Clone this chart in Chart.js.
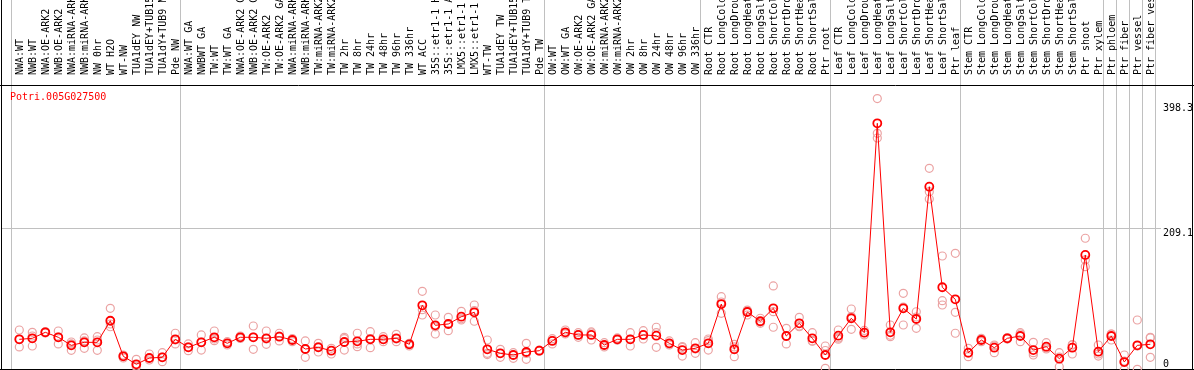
<!DOCTYPE html>
<html><head><meta charset="utf-8">
<script src="https://cdn.jsdelivr.net/npm/chart.js@4.4.0/dist/chart.umd.min.js"></script>
<style>html,body{margin:0;padding:0;background:#fff;overflow:hidden}#wrap{width:1194px;height:370px;position:relative}</style>
</head><body><div id="wrap"><canvas id="c" width="1194" height="370"></canvas></div>
<script>
const chartTitle = "Potri.005G027500";
const categories = [
"NWA:WT","NWB:WT","NWA:OE-ARK2","NWB:OE-ARK2","NWA:miRNA-ARK2","NWB:miRNA-ARK2","NW 0hr","WT H2O","WT-NW","TUA1dEY NW","TUA1dEY+TUB15 NW","TUA1dY+TUB9 NW","Pde NW",
"NWA:WT GA","NWBWT GA","TW:WT","TW:WT GA","NWA:OE-ARK2 GA","NWB:OE-ARK2 GA","TW:OE-ARK2","TW:OE-ARK2 GA","NWA:miRNA-ARK2 GA","NWB:miRNA-ARK2 GA","TW:miRNA-ARK2","TW:miRNA-ARK2 GA","TW 2hr","TW 8hr","TW 24hr","TW 48hr","TW 96hr","TW 336hr","WT ACC","35S::etr1-1 H2O","35S::etr1-1 ACC","LMX5::etr1-1 H2O","LMX5::etr1-1 ACC","WT-TW","TUA1dEY TW","TUA1dEY+TUB15 TW","TUA1dY+TUB9 TW","Pde TW",
"OW:WT","OW:WT GA","OW:OE-ARK2","OW:OE-ARK2 GA","OW:miRNA-ARK2","OW:miRNA-ARK2 GA","OW 2hr","OW 8hr","OW 24hr","OW 48hr","OW 96hr","OW 336hr",
"Root CTR","Root LongCold","Root LongDrought","Root LongHeat","Root LongSalt","Root ShortCold","Root ShortDrought","Root ShortHeat","Root ShortSalt","Ptr root",
"Leaf CTR","Leaf LongCold","Leaf LongDrought","Leaf LongHeat","Leaf LongSalt","Leaf ShortCold","Leaf ShortDrought","Leaf ShortHeat","Leaf ShortSalt","Ptr leaf",
"Stem CTR","Stem LongCold","Stem LongDrought","Stem LongHeat","Stem LongSalt","Stem ShortCold","Stem ShortDrought","Stem ShortHeat","Stem ShortSalt","Ptr shoot","Ptr xylem",
"Ptr phloem","Ptr fiber","Ptr vessel","Ptr fiber vessel"
];
const means = [
45.0,46.5,55.3,48.0,36.2,40.6,40.6,72.3,20.1,8.4,17.6,18.6,45.0,
33.3,40.6,48.0,39.2,48.0,48.0,46.5,48.9,44.0,30.8,33.3,28.3,41.1,42.1,45.0,45.0,46.5,37.7,94.9,65.6,67.5,78.2,84.7,30.4,24.5,22.0,26.4,28.3,
42.6,55.3,51.4,51.4,36.7,45.0,45.0,51.4,50.3,39.2,29.3,31.8,
39.2,96.8,30.4,85.1,71.5,90.5,49.9,68.5,46.5,22.0,
50.3,75.9,54.7,362.0,55.3,90.5,74.8,269.0,121.4,103.7,
25.4,44.0,32.7,46.5,49.9,29.3,34.2,16.6,32.7,168.8,26.9,
49.9,11.7,36.2,37.7
];
const rep1 = [
58.7,55.3,56.2,57.2,41.1,47.0,48.9,90.5,22.0,15.7,23.5,25.4,53.9,
38.2,51.4,57.2,41.5,49.9,64.6,57.2,53.9,41.5,42.6,39.2,31.8,48.0,53.9,56.2,48.9,52.4,39.2,115.5,80.7,77.3,86.1,95.4,44.0,30.4,25.4,39.2,29.3,
43.6,58.7,54.7,54.3,40.1,47.0,54.7,57.7,62.7,42.6,33.3,40.1,
43.0,107.6,37.7,88.0,75.9,123.3,61.2,77.3,54.7,35.2,
58.7,89.5,51.4,398.3,66.0,112.5,85.5,296.0,167.3,171.2,
31.8,46.5,36.7,47.7,54.7,40.6,40.1,25.4,36.7,193.3,36.7,
52.8,22.0,73.4,48.0
];
const rep2 = [
45.5,49.9,54.3,38.2,28.9,31.8,28.9,63.5,17.6,5.9,14.7,12.2,38.2,
28.3,29.3,43.0,36.7,46.2,30.4,37.7,42.6,44.0,18.6,34.5,23.5,29.3,38.2,32.7,41.5,41.5,37.7,80.7,52.8,57.7,73.4,71.5,24.5,18.6,17.2,15.7,27.9,
38.2,54.3,48.0,44.0,33.8,44.0,35.2,45.5,33.3,36.7,20.5,24.5,
29.3,83.2,19.5,80.7,68.5,62.7,38.2,63.5,42.6,2.5,
47.0,59.7,54.7,347.3,48.9,66.0,61.2,261.6,101.7,84.7,
19.5,41.5,25.4,45.8,41.5,22.0,32.3,4.8,23.5,161.5,20.5,
44.0,0.5,1.0,18.6
];
const rep3 = [
33.8,35.2,55.3,48.4,38.2,42.6,44.0,67.5,20.5,4.4,17.6,19.1,44.0,
33.8,41.1,45.5,39.2,47.7,48.4,45.5,49.9,46.2,30.8,26.4,28.6,46.0,34.2,46.1,44.6,45.6,35.2,88.5,63.3,67.5,75.1,87.2,22.6,24.5,22.0,24.3,27.9,
46.0,52.9,51.4,55.8,36.2,44.0,45.0,51.0,54.9,38.3,34.5,30.8,
45.5,99.8,33.8,86.6,70.4,85.6,49.9,64.6,42.2,28.6,
45.3,78.5,58.0,340.4,51.0,92.4,77.8,250.9,95.4,53.9,
24.9,44.0,35.2,45.5,52.8,25.4,30.8,19.1,37.4,151.6,23.5,
52.8,13.2,35.2,47.0
];
const yTickValues = [0, 209.1, 398.3];
const yTickLabels = ["0", "209.1", "398.3"];
const groupEnds = [-1, 12, 40, 52, 62, 72, 83, 84, 85, 86, 87];
const yMax = 418.2;

const FONT = "'DejaVu Sans Mono', 'Liberation Mono', monospace";
Chart.defaults.font.family = FONT;
Chart.defaults.font.size = 10;
Chart.defaults.color = '#000';

const framePlugin = {
  id: 'frame',
  beforeDraw(chart) {
    const {ctx, chartArea: a, scales: {x, y}} = chart;
    ctx.save();
    ctx.fillStyle = '#fff';
    ctx.fillRect(0, 0, chart.width, chart.height);
    ctx.strokeStyle = '#c0c0c0';
    ctx.lineWidth = 1;
    groupEnds.forEach(g => {
      const px = Math.round(x.getPixelForValue(g + 0.385)) + 0.5;
      ctx.beginPath(); ctx.moveTo(px, 0); ctx.lineTo(px, chart.height); ctx.stroke();
    });
    const gy = Math.round(y.getPixelForValue(yTickValues[1])) + 0.5;
    ctx.beginPath(); ctx.moveTo(a.left, gy); ctx.lineTo(1161, gy); ctx.stroke();
    ctx.strokeStyle = '#000';
    ctx.beginPath();
    ctx.moveTo(0, a.top + 0.5); ctx.lineTo(1194, a.top + 0.5);
    ctx.moveTo(1.5, 0); ctx.lineTo(1.5, 370);
    ctx.moveTo(0, 369.5); ctx.lineTo(1194, 369.5);
    ctx.moveTo(1192.5, 0); ctx.lineTo(1192.5, 370);
    ctx.stroke();
    ctx.restore();
  },
  afterDraw(chart) {
    const {ctx, scales: {y}} = chart;
    ctx.save();
    ctx.font = '10px ' + FONT;
    ctx.fillStyle = '#ff0000';
    ctx.textBaseline = 'middle';
    ctx.textAlign = 'left';
    ctx.fillText(chartTitle, 10, 97);
    ctx.fillStyle = '#000';
    ctx.textBaseline = 'top';
    const offs = [-11, 0.5, 4.4];
    yTickValues.forEach((v, k) => {
      ctx.fillText(yTickLabels[k], 1163, y.getPixelForValue(v) + offs[k]);
    });
    ctx.restore();
  }
};

const toPts = arr => arr.map((v, i) => ({x: i, y: v}));
const repDs = [rep1, rep2, rep3].map(r => ({
  data: toPts(r), showLine: false, pointRadius: 4, pointStyle: 'circle',
  pointBorderColor: '#eba3a3', pointBackgroundColor: 'rgba(0,0,0,0)', pointBorderWidth: 1.2, order: 2
}));

const left = 1, right = 1193, firstPx = 19.3, step = 13;
const xmin = -(firstPx - left) / step;
const xmax = xmin + (right - left) / step;
const labelShift = 13 / step;

new Chart(document.getElementById('c'), {
  type: 'line',
  data: {
    datasets: [
      {data: toPts(means), borderColor: '#ff0000', borderWidth: 1, pointRadius: 4, pointStyle: 'circle',
       pointBorderColor: '#ff0000', pointBackgroundColor: 'rgba(0,0,0,0)', pointBorderWidth: 1.8, order: 1, tension: 0},
      ...repDs
    ]
  },
  options: {
    responsive: false, animation: false, devicePixelRatio: 1,
    layout: {autoPadding: false, padding: {left: 1, right: 1, top: 0, bottom: 0}},
    plugins: {legend: {display: false}, tooltip: {enabled: false}, title: {display: false}},
    scales: {
      x: {
        type: 'linear', position: 'top', min: xmin, max: xmax,
        grid: {display: false}, border: {display: false},
        afterBuildTicks: s => { s.ticks = categories.map((c, i) => ({value: i + labelShift})); },
        afterFit: s => { s.height = 85; s.paddingLeft = 0; s.paddingRight = 0; },
        ticks: {autoSkip: false, minRotation: 90, maxRotation: 90, padding: 2, color: '#000',
          font: {family: FONT, size: 10},
          callback: (v, idx) => categories[idx]}
      },
      y: {display: false, min: 0, max: yMax}
    }
  },
  plugins: [framePlugin]
});
</script>
</body></html>
